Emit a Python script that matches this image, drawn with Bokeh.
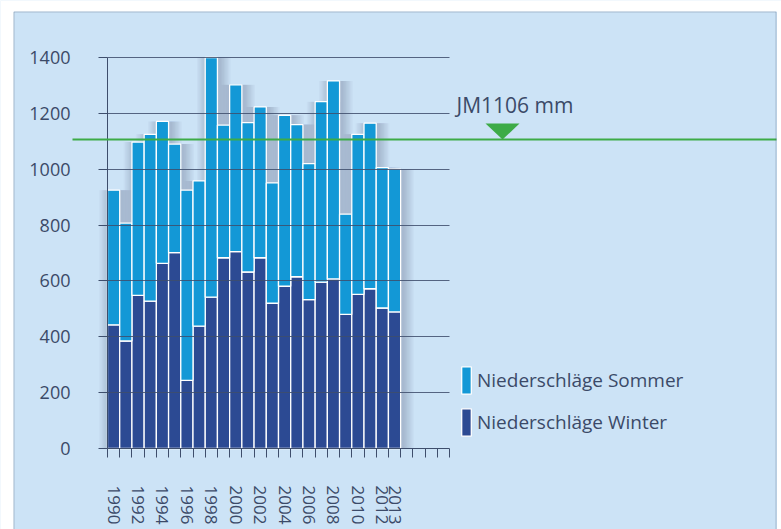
from bokeh.plotting import figure
from bokeh.models import (Range1d, FixedTicker, LinearAxis, Grid, Label, PolyAnnotation,
                          Legend, LegendItem, ColumnDataSource, Arrow)
from bokeh.transform import dodge
from bokeh.embed import file_html
from bokeh.resources import INLINE

# ---------------- data ----------------
years = list(range(1990, 2014))
winter = [443, 385, 548, 528, 663, 701, 244, 438, 542, 683, 705, 632,
          683, 520, 581, 615, 533, 596, 607, 480, 552, 572, 503, 489]
total = [925, 807, 1097, 1125, 1171, 1090, 925, 958, 1400, 1158, 1302, 1167,
         1223, 951, 1193, 1160, 1020, 1242, 1316, 839, 1125, 1165, 1006, 1000]
summer = [t - w for t, w in zip(total, winter)]
slot_years = list(range(1990, 2018))          # slots shown on the x axis
y_ticks = [0, 200, 400, 600, 800, 1000, 1200, 1400]
x_tick_years = [1990, 1992, 1994, 1996, 1998, 2000, 2002, 2004, 2006, 2008, 2010, 2012, 2013]
x_tick_labels = ["1990", "1992", "1994", "1996", "1998", "2000", "2002", "2004",
                 "2006", "2008", "2010", "2012", "2013"]
jm_value = 1106
series_names = ["Niederschläge Sommer", "Niederschläge Winter"]

# ---------------- style / layout ----------------
FONT = "Open Sans"
PANEL = "#cce3f6"
DARK = "#3e4e6c"
TEXT = "#3b4a68"
C_SUMMER = "#1398d6"
C_WINTER = "#2c4a93"
GREEN = "#3dab47"
BORDER = "#4a5a74"

W, H = 781, 529
FL, FR, FT, FB = 107, 449, 57, 448     # plot area edges in canvas pixels

ax_x0 = slot_years[0] - 0.5
ax_x1 = slot_years[-1] + 0.5
ax_y0, ax_y1 = y_ticks[0], y_ticks[-1]
XPX = (FR - FL) / (ax_x1 - ax_x0)
YPX = (FB - FT) / (ax_y1 - ax_y0)
x_start = ax_x0 - FL / XPX
x_end = ax_x0 + (W - FL) / XPX
y_start = ax_y0 - (H - FB) / YPX
y_end = ax_y1 + FT / YPX


def xd(px):
    return x_start + px / XPX


def yd(py):
    return y_end - py / YPX


p = figure(width=W, height=H, output_backend="svg", toolbar_location=None,
           x_range=Range1d(x_start, x_end), y_range=Range1d(y_start, y_end),
           x_axis_type=None, y_axis_type=None, min_border=0)
p.min_border_left = p.min_border_right = p.min_border_top = p.min_border_bottom = 0
p.background_fill_color = PANEL
p.border_fill_color = PANEL
p.outline_line_color = None

# white page margin around the panel
p.add_layout(PolyAnnotation(xs=[xd(-5), xd(W + 5), xd(W + 5), xd(776.5), xd(776.5), xd(13), xd(13), xd(-5)],
                            ys=[yd(-5), yd(-5), yd(H + 5), yd(H + 5), yd(11), yd(11), yd(H + 5), yd(H + 5)],
                            fill_color="white", fill_alpha=1, line_color=None,
                            level="underlay"))

src = ColumnDataSource(dict(year=years, winter=winter, summer=summer, total=total))

# soft shadow behind the bar group
for k in range(1, 9):
    p.vbar(x=dodge("year", 0.2, range=p.x_range), bottom=ax_y0, top="total",
           width=1 + 0.22 * k, source=src, fill_color="#1c3358",
           fill_alpha=0.028, line_color=None)

r_w = p.vbar(x="year", bottom=ax_y0, top="winter", width=1.0, source=src,
             fill_color=C_WINTER, line_color="white", line_width=1.3)
r_s = p.vbar(x="year", bottom="winter", top="total", width=1.0, source=src,
             fill_color=C_SUMMER, line_color="white", line_width=1.3)

# grid lines over the bars
grid = Grid(dimension=1, ticker=FixedTicker(ticks=y_ticks[1:]),
            cross_bounds=(ax_x0, ax_x1),
            grid_line_color=DARK, grid_line_alpha=0.85, grid_line_width=1,
            level="annotation")
p.add_layout(grid)

yaxis = LinearAxis(ticker=FixedTicker(ticks=y_ticks), fixed_location=ax_x0,
                   bounds=(ax_y0, ax_y1),
                   major_tick_out=9, major_tick_in=0, minor_tick_out=0, minor_tick_in=0,
                   major_tick_line_color=DARK, axis_line_color=DARK,
                   major_label_standoff=28, major_label_text_font=FONT,
                   major_label_text_font_size="18px", major_label_text_color=TEXT)
p.add_layout(yaxis, "left")

boundaries = [y - 0.5 for y in slot_years] + [slot_years[-1] + 0.5]
xaxis = LinearAxis(ticker=FixedTicker(ticks=x_tick_years, minor_ticks=boundaries),
                   fixed_location=ax_y0, bounds=(ax_x0, ax_x1),
                   major_tick_out=9, major_tick_in=0, major_tick_line_color=None,
                   minor_tick_out=9, minor_tick_in=0, minor_tick_line_color=DARK,
                   axis_line_color=DARK,
                   major_label_orientation="vertical", major_label_standoff=28,
                   major_label_overrides={y: s for y, s in zip(x_tick_years, x_tick_labels)},
                   major_label_text_font=FONT, major_label_text_font_size="17px",
                   major_label_text_color=TEXT)
p.add_layout(xaxis, "below")

# annual mean line, marker and label
p.add_layout(Arrow(end=None, x_start=xd(72), y_start=jm_value, x_end=xd(776), y_end=jm_value,
                   line_color=GREEN, line_width=2))
tip_x = xd(502)
half = (xd(519) - xd(485)) / 2
tri_h = yd(120) - yd(136)
p.add_layout(PolyAnnotation(xs=[tip_x - half, tip_x + half, tip_x],
                            ys=[jm_value + tri_h, jm_value + tri_h, jm_value],
                            fill_color=GREEN, fill_alpha=1, line_color=None))
p.add_layout(Label(x=xd(456), y=yd(104.5), text=f"JM{jm_value} mm", text_font=FONT,
                   text_font_size="21px", text_color=TEXT, text_baseline="alphabetic",
                   text_align="left"))

legend = Legend(items=[LegendItem(label=series_names[0], renderers=[r_s]),
                       LegendItem(label=series_names[1], renderers=[r_w])],
                location=(460, H - 438.5), orientation="vertical",
                glyph_width=12, glyph_height=34, label_height=34, spacing=8,
                label_standoff=5, padding=0, margin=0,
                background_fill_alpha=0, border_line_color=None,
                label_text_font=FONT, label_text_font_size="19px",
                label_text_color=TEXT, label_text_baseline="middle")
p.add_layout(legend)

# panel border
p.add_layout(PolyAnnotation(xs=[xd(13.5), xd(13.5), xd(775.5), xd(775.5)],
                            ys=[yd(H + 20), yd(11.5), yd(11.5), yd(H + 20)],
                            fill_color=None, fill_alpha=0, line_color=BORDER, line_width=1,
                            level="overlay"))

open("out.html", "w").write(file_html(p, INLINE))
